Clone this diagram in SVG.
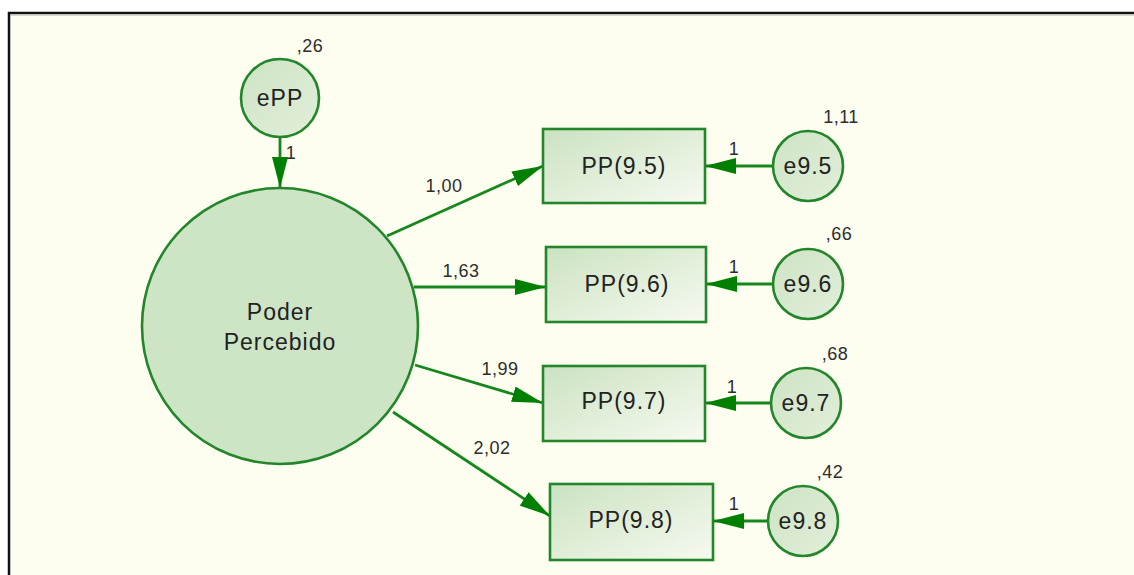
<svg xmlns="http://www.w3.org/2000/svg" width="1134" height="575" viewBox="0 0 1134 575">
  <defs>
    <style>
      .frame { fill: #fdfef0; stroke: #111; stroke-width: 2.5; }
      .latent { fill: #cde4c5; stroke: #23862a; stroke-width: 2.6; }
      .err { fill: url(#errFill); stroke: #23862a; stroke-width: 2.6; }
      .obs { fill: url(#obsFill); stroke: #23862a; stroke-width: 2.6; }
      .path { stroke: #16871c; stroke-width: 2.8; fill: none; marker-end: url(#head); }
      .lbl { font-family: "Liberation Sans", Arial, sans-serif; font-size: 23px; letter-spacing: 1px; fill: #222; text-anchor: middle; }
      .num { font-family: "Liberation Sans", Arial, sans-serif; font-size: 18px; letter-spacing: 0.5px; fill: #2d2d2d; text-anchor: middle; }
    </style>
    <linearGradient id="obsFill" x1="0" y1="0" x2="1" y2="1">
      <stop offset="0" stop-color="#cbe2c2"/>
      <stop offset="1" stop-color="#f6faef"/>
    </linearGradient>
    <linearGradient id="errFill" x1="0" y1="0" x2="1" y2="1">
      <stop offset="0" stop-color="#cde3c4"/>
      <stop offset="1" stop-color="#e2efda"/>
    </linearGradient>
    <marker id="head" markerUnits="userSpaceOnUse" markerWidth="31" markerHeight="16" refX="31" refY="8" orient="auto">
      <path d="M0,0 L31,8 L0,16 Z" fill="#008000"/>
    </marker>
  </defs>

  <!-- page and frame -->
  <rect x="0" y="0" width="1134" height="575" fill="#ffffff"/>
  <rect class="frame" x="9" y="13" width="1140" height="580"/>
  <line x1="11" y1="15.5" x2="1134" y2="15.5" stroke="#d8d8cc" stroke-width="1"/>

  <!-- connectors -->
  <g id="connectors">
    <line class="path" x1="280" y1="137" x2="280" y2="188"/>
    <line class="path" x1="387" y1="236" x2="543" y2="166"/>
    <line class="path" x1="414" y1="287" x2="546" y2="287"/>
    <line class="path" x1="415" y1="365" x2="543" y2="403"/>
    <line class="path" x1="393" y1="412" x2="550" y2="516"/>
    <line class="path" x1="773" y1="166" x2="705" y2="166"/>
    <line class="path" x1="773" y1="284" x2="706" y2="284"/>
    <line class="path" x1="771" y1="403" x2="705" y2="403"/>
    <line class="path" x1="768" y1="521" x2="713" y2="521"/>
    <text class="num" x="291" y="159">1</text>
    <text class="num" x="444" y="192">1,00</text>
    <text class="num" x="461" y="277">1,63</text>
    <text class="num" x="500" y="375">1,99</text>
    <text class="num" x="492" y="454">2,02</text>
    <text class="num" x="734" y="155">1</text>
    <text class="num" x="734" y="273">1</text>
    <text class="num" x="732" y="393">1</text>
    <text class="num" x="734" y="510">1</text>
  </g>

  <!-- disturbance of the latent factor -->
  <g id="ePP">
    <circle class="err" cx="280" cy="98" r="39"/>
    <text class="lbl" x="280" y="106">ePP</text>
    <text class="num" x="310" y="52">,26</text>
  </g>

  <!-- latent factor -->
  <g id="poder-percebido">
    <circle class="latent" cx="280" cy="326" r="138"/>
    <text class="lbl" x="280" y="320">Poder</text>
    <text class="lbl" x="280" y="350">Percebido</text>
  </g>

  <!-- observed indicators -->
  <g id="pp95">
    <rect class="obs" x="543" y="129" width="162" height="74"/>
    <text class="lbl" x="624" y="174">PP(9.5)</text>
  </g>
  <g id="pp96">
    <rect class="obs" x="546" y="247" width="160" height="75"/>
    <text class="lbl" x="627" y="292">PP(9.6)</text>
  </g>
  <g id="pp97">
    <rect class="obs" x="543" y="366" width="162" height="75"/>
    <text class="lbl" x="624" y="409">PP(9.7)</text>
  </g>
  <g id="pp98">
    <rect class="obs" x="550" y="484" width="163" height="76"/>
    <text class="lbl" x="631" y="528">PP(9.8)</text>
  </g>

  <!-- measurement errors -->
  <g id="e95">
    <circle class="err" cx="808" cy="166" r="35"/>
    <text class="lbl" x="808" y="174">e9.5</text>
    <text class="num" x="841" y="123">1,11</text>
  </g>
  <g id="e96">
    <circle class="err" cx="808" cy="284" r="35"/>
    <text class="lbl" x="808" y="292">e9.6</text>
    <text class="num" x="839" y="240">,66</text>
  </g>
  <g id="e97">
    <circle class="err" cx="806" cy="403" r="35"/>
    <text class="lbl" x="806" y="411">e9.7</text>
    <text class="num" x="835" y="360">,68</text>
  </g>
  <g id="e98">
    <circle class="err" cx="803" cy="521" r="35"/>
    <text class="lbl" x="803" y="529">e9.8</text>
    <text class="num" x="830" y="478">,42</text>
  </g>
</svg>
